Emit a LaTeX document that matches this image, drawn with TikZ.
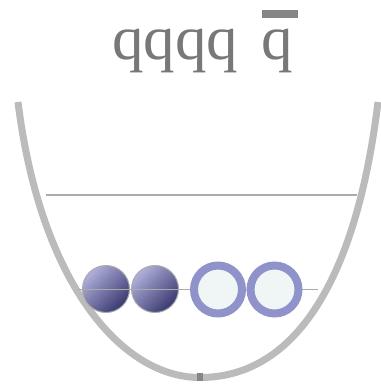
\documentclass[tikz,border=0pt]{standalone}
\usepackage{fontspec}
\setmainfont{Liberation Serif}
\definecolor{wellgray}{HTML}{BBBBBB}
\definecolor{linegray}{HTML}{AAAAAA}
\definecolor{textgray}{HTML}{787878}
\definecolor{bargray}{HTML}{858585}
\definecolor{balllight}{HTML}{B0B0DA}
\definecolor{balldark}{HTML}{383870}
\definecolor{ringblue}{HTML}{9092CA}
\definecolor{ringfill}{HTML}{F0F6F6}
\tikzset{
  ball/.style={circle, minimum size=47pt, inner sep=0pt, draw=linegray, line width=1pt,
    top color=balllight, bottom color=balldark, shading angle=45},
  ring/.style={circle, minimum size=48pt, inner sep=0pt, draw=ringblue, line width=8pt, fill=ringfill},
  level/.style={draw=linegray, line width=1.5pt},
  quark/.style={font=\fontsize{63}{70}\selectfont, text=textgray, inner sep=0pt, anchor=base},
  wellline/.style={draw=wellgray, line width=7pt}
}
\begin{document}
\begin{tikzpicture}[x=1pt,y=-1pt]
\useasboundingbox (0,0) rectangle (380,385);
% well
\coordinate (wl) at (18,102);
\coordinate (wb) at (200,377.5);
\coordinate (wr) at (378,102);
\draw[wellline] (wl) .. controls (40,280) and (120,377.5) .. (wb)
  .. controls (290,377.5) and (355,290) .. (wr);
\fill[bargray] (197,373) rectangle (203,381);
% levels
\coordinate (u1) at (46,195);
\coordinate (u2) at (357,195);
\draw[level] (u1) -- (u2);
% particles
\node[ball] (b1) at (106,289) {};
\node[ball] (b2) at (155,289) {};
\coordinate (l1) at (78,289.5);
\coordinate (l2) at (318,289.5);
\draw[level] (l1) -- (l2);
\node[ring] (r1) at (218,289.5) {};
\node[ring] (r2) at (274.5,289.5) {};
% label
\node[quark] (q4) at (175,60) {qqqq};
\node[quark] (qb) at (277,60) {q};
\fill[bargray] (262,10) rectangle (298,18);
\end{tikzpicture}
\end{document}
